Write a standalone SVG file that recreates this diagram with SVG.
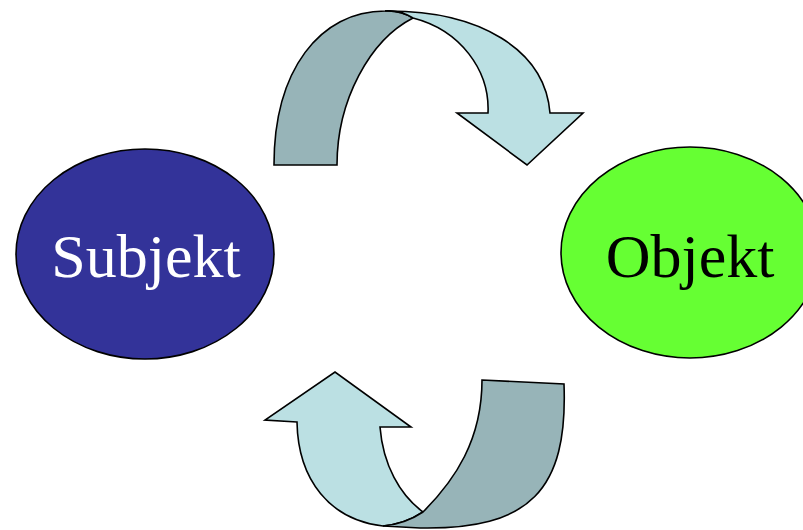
<svg xmlns="http://www.w3.org/2000/svg" width="803" height="530" viewBox="0 0 803 530">
<style>
.dark{fill:#97B4B8;stroke:#000;stroke-width:1.6;stroke-linejoin:miter}
.light{fill:#BBE0E3;stroke:#000;stroke-width:1.6;stroke-linejoin:miter}
.lbl{font-family:"Liberation Serif","Times New Roman",serif;font-size:62px;text-anchor:middle}
</style>
<rect width="803" height="530" fill="#fff"/>
<g id="connectors">
  <g id="arrow-top">
    <path class="dark" d="M274,165 C274,70 320,11 385,11 Q400,10 413,18 C370,40 337,100 337,165 Z"/>
    <path class="light" d="M385,11 C480,10 545,50 550,113 L583,113 L527,165 L457,113 L488,113 C490,70 460,30 413,18 Q400,10 385,11 Z"/>
  </g>
  <g id="arrow-bottom">
    <path class="light" d="M297,422 L265,420 L335,372 L411,427 L380,427 C383,465 400,495 423,512 Q405,524 383,526 C330,520 298,480 297,422 Z"/>
    <path class="dark" d="M482,380 L564,384 C568,490 530,530 420,528 L383,526 Q405,524 423,512 C455,480 482,440 482,380 Z"/>
  </g>
</g>
<g id="subjekt">
  <ellipse cx="145" cy="254" rx="129" ry="105" fill="#333399" stroke="#000" stroke-width="1.6"/>
  <text class="lbl" x="146" y="277" fill="#fff">Subjekt</text>
</g>
<g id="objekt">
  <ellipse cx="690" cy="252.5" rx="129" ry="105.5" fill="#66FF33" stroke="#000" stroke-width="1.6"/>
  <text class="lbl" x="690" y="277" fill="#000">Objekt</text>
</g>
</svg>
